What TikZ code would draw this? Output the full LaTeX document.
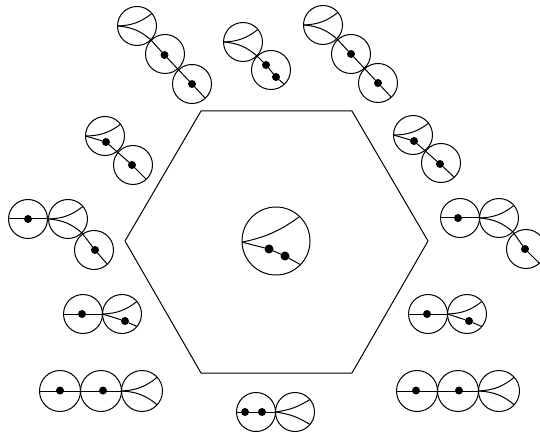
\documentclass[tikz,border=0pt]{standalone}
\tikzset{
  blob/.style = {draw, circle, line width=1pt, minimum size=39pt, inner sep=0pt, outer sep=0pt},
  jnct/.style = {circle, fill=black, minimum size=8pt, inner sep=0pt, outer sep=0pt},
  leg/.style  = {line width=1pt, line join=round},
  up/.style   = {leg, bend right=18},
  dn/.style   = {leg, bend left=18}
}
\begin{document}
\begin{tikzpicture}[x=1pt, y=-1pt]
  \useasboundingbox (0,0) rectangle (540,435);

  % -- hexagon and the big blob ---------------------------------------------
  \draw[leg] (201,111) -- (352,111) -- (428,241) -- (352,373) -- (201,373) -- (125,241) -- cycle;
  \node[blob, minimum size=68pt] (C) at (276,241) {};
  \node[jnct, minimum size=9pt] (Cd1) at (269,249) {};
  \node[jnct, minimum size=9pt] (Cd2) at (285,256) {};
  \draw[up, bend right=12] (C.182) to (C.46);
  \draw[leg] (C.182) -- (Cd1) -- (Cd2) -- (C.-44);

  % -- top left -------------------------------------------------------------
  \node[blob] (Ta1) at (137,26) {};
  \node[blob] (Ta2) at (165,54) {};
  \node[blob] (Ta3) at (192,84) {};
  \node[jnct] (Ta2d) at (164.5,55) {};
  \node[jnct] (Ta3d) at (192,84) {};
  \draw[up] (Ta1.180) to (Ta1.40);
  \draw[dn] (Ta1.180) to (Ta1.-45);
  \draw[leg] (Ta1.-45) -- (Ta2d) -- (Ta3d) -- (Ta3.-47);

  % -- top middle -----------------------------------------------------------
  \node[blob] (Tb1) at (243,42) {};
  \node[blob] (Tb2) at (271,70) {};
  \node[jnct] (Tb2d1) at (266,65) {};
  \node[jnct] (Tb2d2) at (276,77) {};
  \draw[up] (Tb1.180) to (Tb1.40);
  \draw[dn] (Tb1.180) to (Tb1.-45);
  \draw[leg] (Tb1.-45) -- (Tb2d1) -- (Tb2d2) -- (Tb2.-47);

  % -- top right ------------------------------------------------------------
  \node[blob] (Tc1) at (323,25) {};
  \node[blob] (Tc2) at (351,54) {};
  \node[blob] (Tc3) at (378,83) {};
  \node[jnct] (Tc2d) at (351,54) {};
  \node[jnct] (Tc3d) at (378,83) {};
  \draw[up] (Tc1.180) to (Tc1.40);
  \draw[dn] (Tc1.180) to (Tc1.-45);
  \draw[leg] (Tc1.-45) -- (Tc2d) -- (Tc3d) -- (Tc3.-47);

  % -- left side ------------------------------------------------------------
  \node[blob] (La1) at (105,136) {};
  \node[blob] (La2) at (133,165) {};
  \node[jnct] (La1d) at (106,142) {};
  \node[jnct] (La2d) at (132,165) {};
  \draw[up] (La1.180) to (La1.37);
  \draw[leg] (La1.180) -- (La1d) -- (La2d) -- (La2.-47);

  \node[blob] (Lb1) at (28,219) {};
  \node[blob] (Lb2) at (68,219) {};
  \node[blob] (Lb3) at (94,250) {};
  \node[jnct] (Lb1d) at (28,219) {};
  \node[jnct] (Lb3d) at (95,250) {};
  \draw[leg] (Lb1.180) -- (Lb1d) -- (Lb2.180);
  \draw[up] (Lb2.180) to (Lb2.40);
  \draw[dn] (Lb2.180) to (Lb2.-45);
  \draw[leg] (Lb2.-45) -- (Lb3d) -- (Lb3.-47);

  % -- right side -----------------------------------------------------------
  \node[blob] (Ra1) at (413,135) {};
  \node[blob] (Ra2) at (441,163) {};
  \node[jnct] (Ra1d) at (414,141) {};
  \node[jnct] (Ra2d) at (440,164) {};
  \draw[up] (Ra1.180) to (Ra1.37);
  \draw[leg] (Ra1.180) -- (Ra1d) -- (Ra2d) -- (Ra2.-47);

  \node[blob] (Rb1) at (460,218) {};
  \node[blob] (Rb2) at (499,218) {};
  \node[blob] (Rb3) at (526,249) {};
  \node[jnct] (Rb1d) at (458,218) {};
  \node[jnct] (Rb3d) at (525,249) {};
  \draw[leg] (Rb1.180) -- (Rb1d) -- (Rb2.180);
  \draw[up] (Rb2.180) to (Rb2.40);
  \draw[dn] (Rb2.180) to (Rb2.-45);
  \draw[leg] (Rb2.-45) -- (Rb3d) -- (Rb3.-47);

  % -- lower left -----------------------------------------------------------
  \node[blob] (Da1) at (83,314) {};
  \node[blob] (Da2) at (122,314) {};
  \node[jnct] (Da1d) at (82,314) {};
  \node[jnct] (Da2d) at (125,321) {};
  \draw[leg] (Da1.180) -- (Da1d) -- (Da2.180);
  \draw[up] (Da2.180) to (Da2.40);
  \draw[leg] (Da2.180) -- (Da2d) -- (Da2.-40);

  \node[blob, minimum size=41pt] (Db1) at (60,391) {};
  \node[blob, minimum size=41pt] (Db2) at (101,391) {};
  \node[blob, minimum size=41pt] (Db3) at (142,391) {};
  \node[jnct] (Db1d) at (60,390.5) {};
  \node[jnct] (Db2d) at (103,390.5) {};
  \draw[leg] (Db1.180) -- (Db3.180);
  \draw[up] (Db3.180) to (Db3.42);
  \draw[dn] (Db3.180) to (Db3.-42);

  % -- lower right ----------------------------------------------------------
  \node[blob] (Ea1) at (428,314) {};
  \node[blob] (Ea2) at (467,314) {};
  \node[jnct] (Ea1d) at (427,314) {};
  \node[jnct] (Ea2d) at (469,321) {};
  \draw[leg] (Ea1.180) -- (Ea1d) -- (Ea2.180);
  \draw[up] (Ea2.180) to (Ea2.40);
  \draw[leg] (Ea2.180) -- (Ea2d) -- (Ea2.-40);

  \node[blob, minimum size=41pt] (Eb1) at (417,391) {};
  \node[blob, minimum size=41pt] (Eb2) at (458,391) {};
  \node[blob, minimum size=41pt] (Eb3) at (499,391) {};
  \node[jnct] (Eb1d) at (416,390.5) {};
  \node[jnct] (Eb2d) at (459,390.5) {};
  \draw[leg] (Eb1.180) -- (Eb3.180);
  \draw[up] (Eb3.180) to (Eb3.42);
  \draw[dn] (Eb3.180) to (Eb3.-42);

  % -- bottom ---------------------------------------------------------------
  \node[blob] (F1) at (256,412) {};
  \node[blob] (F2) at (295,412) {};
  \node[jnct] (F1d1) at (245,412) {};
  \node[jnct] (F1d2) at (262,412) {};
  \draw[leg] (F1.180) -- (F2.180);
  \draw[up, bend right=12] (F2.180) to (F2.40);
  \draw[dn, bend left=12] (F2.180) to (F2.-40);
\end{tikzpicture}
\end{document}
